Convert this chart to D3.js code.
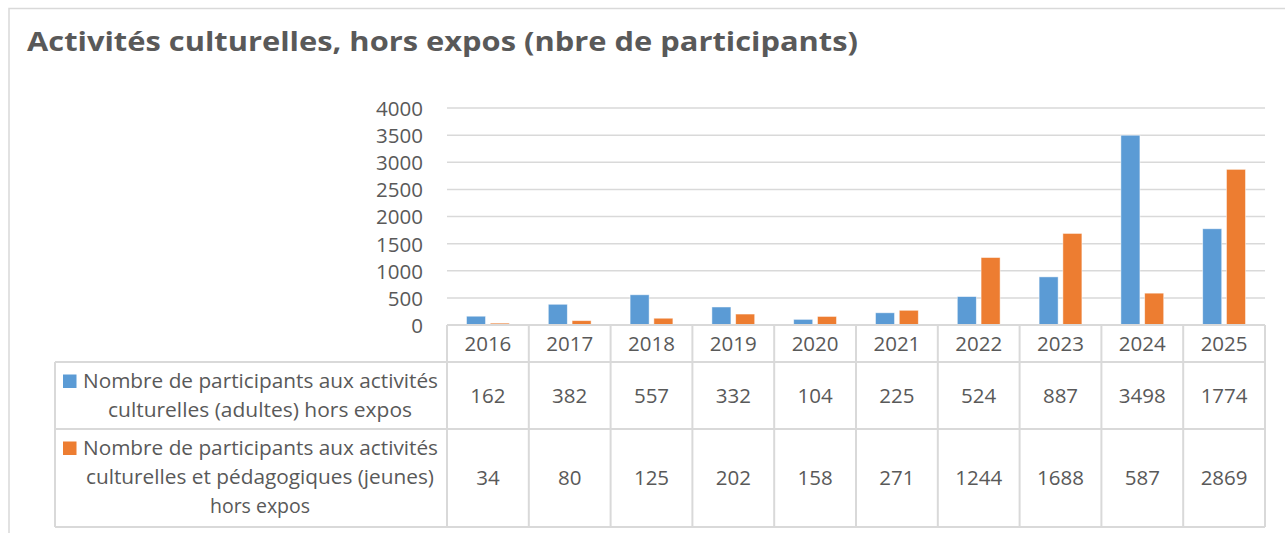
<!DOCTYPE html>
<html><head><meta charset="utf-8">
<script src="https://cdn.jsdelivr.net/npm/d3@7"></script>
<style>html,body{margin:0;padding:0;background:#fff;}svg{display:block;}</style>
</head><body>
<svg id="c" width="1285" height="533"></svg>
<script>
const title = "Activités culturelles, hors expos (nbre de participants)";
const years = ["2016","2017","2018","2019","2020","2021","2022","2023","2024","2025"];
const adults = [162,382,557,332,104,225,524,887,3498,1774];
const youth = [34,80,125,202,158,271,1244,1688,587,2869];
const seriesNames = [
  ["Nombre de participants aux activités", "culturelles (adultes) hors expos"],
  ["Nombre de participants aux activités", "culturelles et pédagogiques (jeunes)", "hors expos"]
];
const seriesColors = ["#5b9bd5","#ed7d31"];
const yTicks = [0,500,1000,1500,2000,2500,3000,3500,4000];

(function(){
const svg = d3.select("#c");
const grey = "#595959", lineC = "#d9d9d9";
const font = "'Open Sans', sans-serif";

function fit(sel, w){
  sel.each(function(){
    const L = this.getComputedTextLength();
    if (Math.abs(L - w)/w > 0.01) d3.select(this).attr("textLength", w).attr("lengthAdjust","spacingAndGlyphs");
  });
}

// outer border
svg.append("rect").attr("x",9).attr("y",8.5).attr("width",1300).attr("height",560)
  .attr("fill","none").attr("stroke",lineC).attr("stroke-width",1.5);

// title
svg.append("text").attr("x",27).attr("y",51).attr("font-family",font).attr("font-weight",700)
  .attr("font-size",27).attr("fill",grey).text(title).call(fit, 831);

const pLeft = 447, pRight = 1265, pTop = 108, pBase = 325;
const x = d3.scaleBand().domain(years).range([pLeft,pRight]).padding(0);
const inner = d3.scaleBand().domain([0,1]).range([19.5, 62.3]).paddingInner(0.2);
const y = d3.scaleLinear().domain([0,4000]).range([pBase, pTop]);

// gridlines
svg.append("g").selectAll("line").data(yTicks.filter(d=>d>0)).join("line")
  .attr("x1",pLeft).attr("x2",pRight).attr("y1",d=>y(d)).attr("y2",d=>y(d))
  .attr("stroke",lineC).attr("stroke-width",1.5);

// y axis labels
const yAxis = d3.axisLeft(y).tickValues(yTicks).tickSize(0).tickPadding(0).tickFormat(d3.format("d"));
const ya = svg.append("g").attr("transform","translate(423,0)").call(yAxis);
ya.select(".domain").remove();
ya.selectAll("text").attr("font-family",font).attr("font-size",20.5).attr("fill",grey).attr("dy","0.36em");

// bars
const series = [adults, youth];
series.forEach((vals,si)=>{
  svg.append("g").selectAll("rect").data(vals).join("rect")
    .attr("x",(d,i)=>x(years[i])+inner(si)).attr("width",inner.bandwidth())
    .attr("y",d=>y(d)).attr("height",d=>pBase-y(d))
    .attr("fill",seriesColors[si]).attr("stroke","#fff").attr("stroke-width",0.8).attr("stroke-opacity",0.6);
});

// data table
const tbl = svg.append("g");
tbl.append("line").attr("x1",pLeft).attr("x2",pRight).attr("y1",325).attr("y2",325).attr("stroke",lineC).attr("stroke-width",2);
[362,429,527].forEach(yy=>{
  tbl.append("line").attr("x1",55).attr("x2",pRight).attr("y1",yy).attr("y2",yy).attr("stroke",lineC).attr("stroke-width",2);
});
tbl.append("line").attr("x1",55).attr("x2",55).attr("y1",362).attr("y2",527).attr("stroke",lineC).attr("stroke-width",2);
const bounds = years.map(d=>x(d)).concat([pRight]);
tbl.selectAll("line.v").data(bounds).join("line").attr("class","v")
  .attr("x1",d=>d).attr("x2",d=>d).attr("y1",325).attr("y2",527).attr("stroke",lineC).attr("stroke-width",2);

tbl.selectAll("text.yr").data(years).join("text").attr("class","yr")
  .attr("x",d=>x(d)+x.bandwidth()/2).attr("y",351).attr("text-anchor","middle")
  .attr("font-family",font).attr("font-size",20.5).attr("fill",grey).text(d=>d);

const valBase = [403, 485];
series.forEach((vals,si)=>{
  tbl.selectAll("text.v"+si).data(vals).join("text").attr("class","v"+si)
    .attr("x",(d,i)=>x(years[i])+x.bandwidth()/2).attr("y",valBase[si]).attr("text-anchor","middle")
    .attr("font-family",font).attr("font-size",20.5).attr("fill",grey).text(d=>d);
});

const lineBases = [[388,417],[455,484,513]];
const lineWidths = [[355,304],[355,348,100]];
seriesNames.forEach((lines,si)=>{
  lines.forEach((t,li)=>{
    const cx = li===0 ? 83 + lineWidths[si][li]/2 : 260;
    const el = tbl.append("text").attr("x",cx).attr("y",lineBases[si][li]).attr("text-anchor","middle")
      .attr("font-family",font).attr("font-size",20.5).attr("fill",grey).text(t);
    el.call(fit, lineWidths[si][li]);
  });
  tbl.append("rect").attr("x",63).attr("y",lineBases[si][0]-13.5).attr("width",13.5).attr("height",13.5)
    .attr("fill",seriesColors[si]);
});
})();
</script>
</body></html>
